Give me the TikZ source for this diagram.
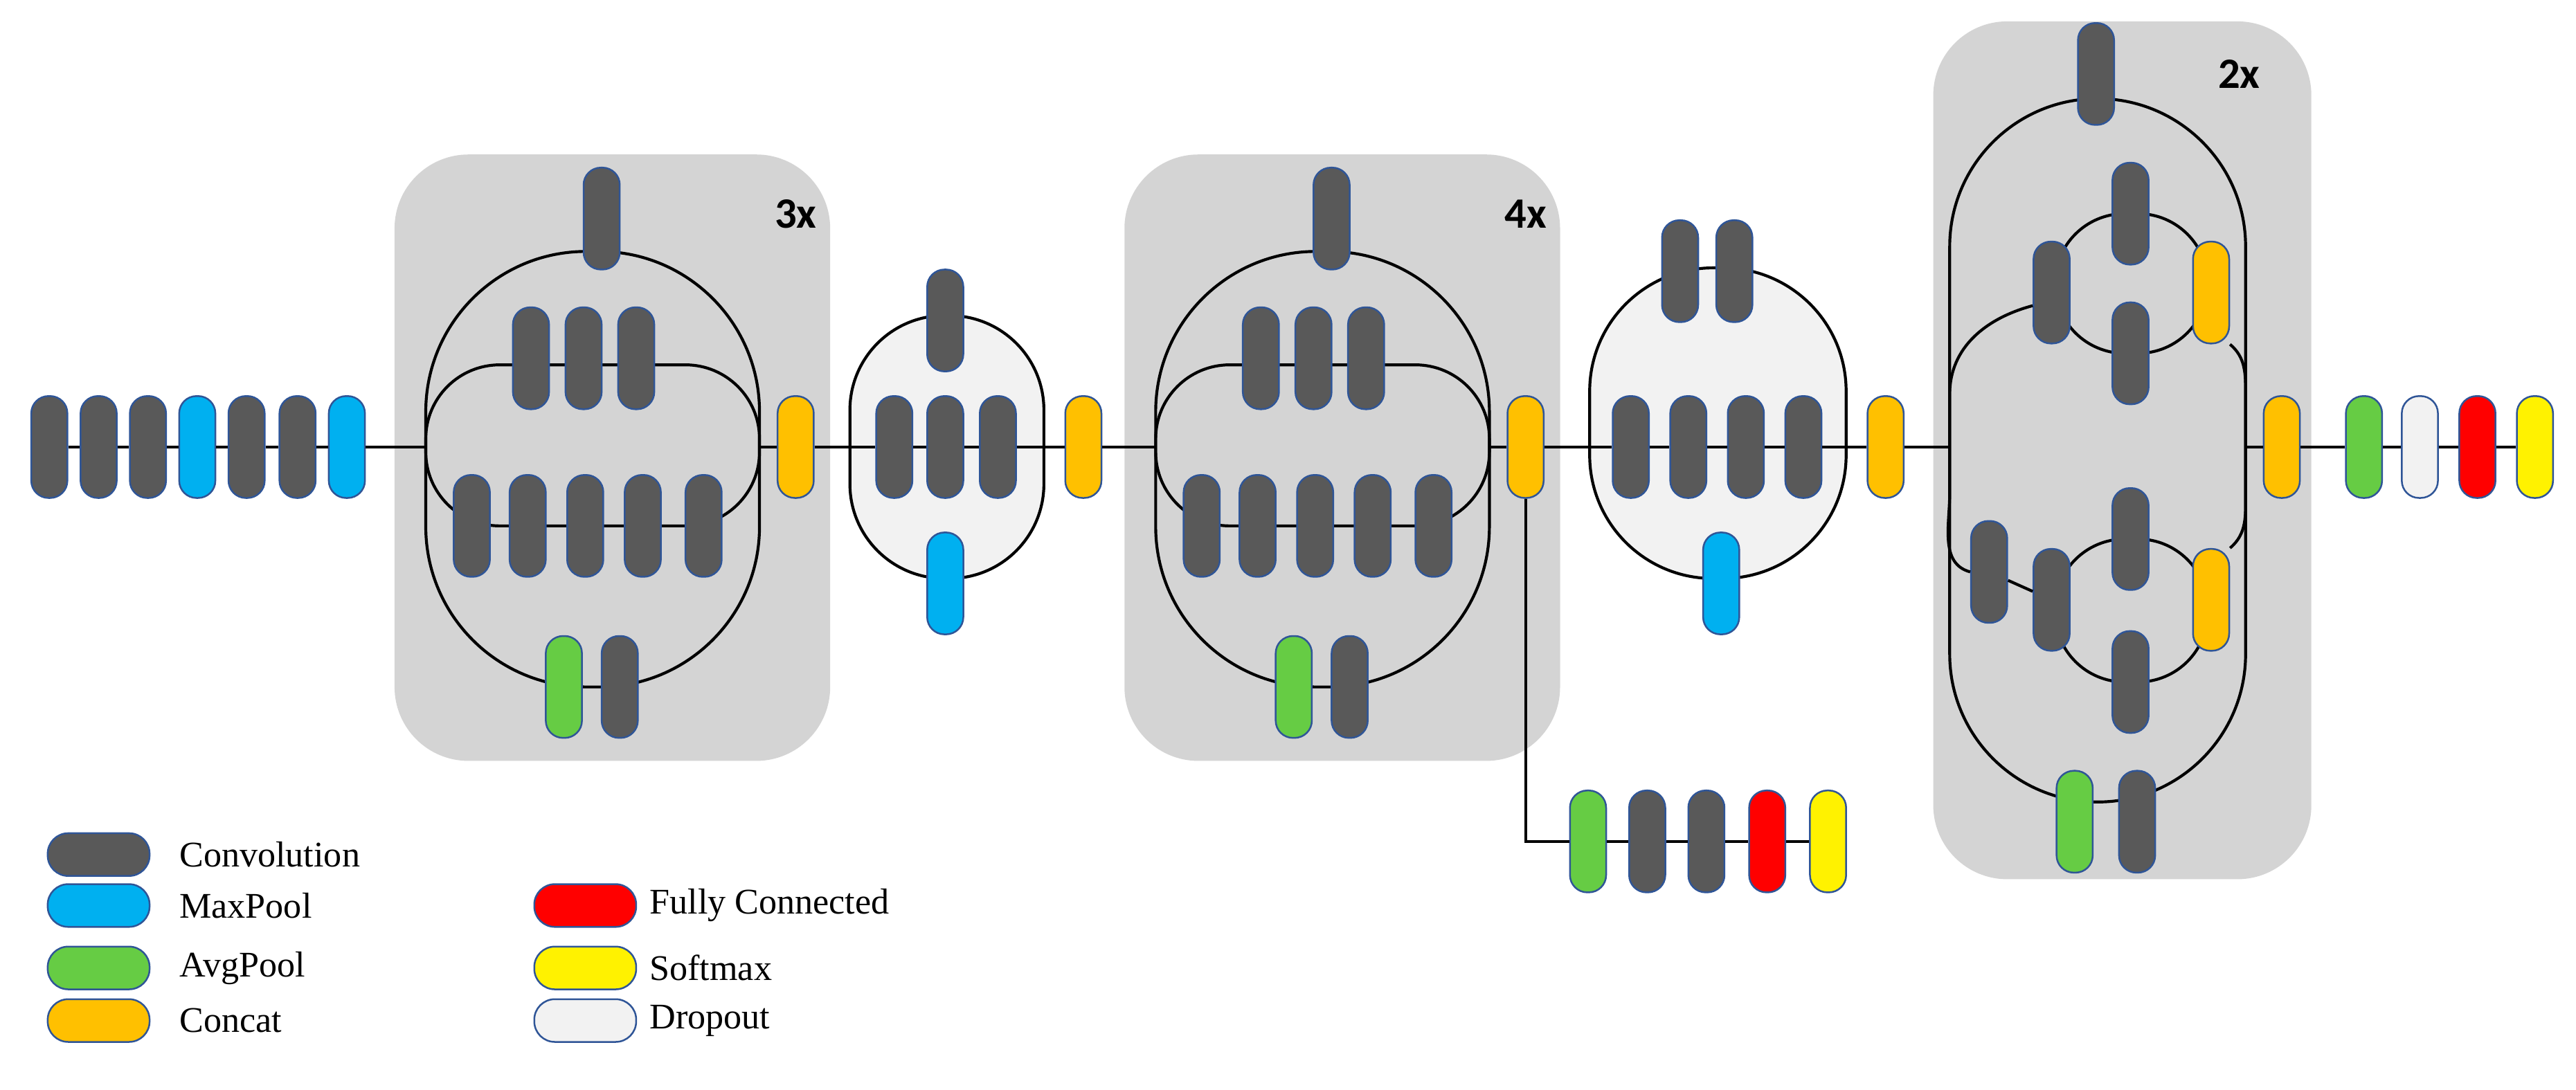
\documentclass[tikz,border=0pt]{standalone}
\usepackage{fontspec}
\setmainfont{Liberation Serif}
\newfontfamily\lblfont{Carlito}
\definecolor{conv}{HTML}{595959}
\definecolor{maxp}{HTML}{00B0F0}
\definecolor{avgp}{HTML}{66CC44}
\definecolor{cat}{HTML}{FFC000}
\definecolor{drop}{HTML}{F2F2F2}
\definecolor{rim}{HTML}{2F5597}
\definecolor{boxgray}{HTML}{D4D4D4}
\begin{document}
\begin{tikzpicture}
[x=0.02cm,y=-0.02cm,
pill/.style={rectangle,draw=rim,line width=0.6pt,minimum width=0.44cm,minimum height=1.24cm,rounded corners=0.21cm,inner sep=0pt},
cv/.style={pill,fill=conv},
mp/.style={pill,fill=maxp},
ap/.style={pill,fill=avgp},
ct/.style={pill,fill=cat},
fc/.style={pill,fill=red},
sm/.style={pill,fill=yellow},
dp/.style={pill,fill=drop},
key/.style={minimum width=1.24cm,minimum height=0.52cm,rounded corners=0.25cm},
loop/.style={draw=black,line width=1pt},
rep/.style={fill=boxgray,rounded corners=0.9cm},
note/.style={font=\fontsize{12.5}{14}\selectfont,anchor=west}]
\useasboundingbox (0,0) rectangle (1567,663);
% repeated blocks
\fill[rep] (240,94) rectangle (505,463);
\fill[rep] (684,94) rectangle (949,463);
\fill[rep] (1176,13) rectangle (1406,535);
\node[font=\lblfont\bfseries\fontsize{15}{17}\selectfont] (n3) at (484,130) {3x};
\node[font=\lblfont\bfseries\fontsize{15}{17}\selectfont] (n4) at (928,130) {4x};
\node[font=\lblfont\bfseries\fontsize{15}{17}\selectfont] (n2) at (1362,45) {2x};
% reduction blocks
\draw[loop,fill=drop,rounded corners=1.15cm] (517,192) rectangle (635,352);
\draw[loop,fill=drop,rounded corners=1.5cm] (967,163) rectangle (1123,352);
% stem
\foreach \x/\t [count=\i] in {30/cv,60/cv,90/cv,120/mp,150/cv,181/cv,211/mp}
	\node[\t] (s\i) at (\x,272) {};
\foreach \i [evaluate=\i as \j using int(\i+1)] in {1,...,6}
	\draw[line width=1pt] (s\i) -- (s\j);
% inception A and B
\foreach \s/\n in {0/1,444/2}
{
	\draw[loop,shift={(\s,0)},rounded corners=1.95cm] (259,153) rectangle (462,418);
	\draw[loop,shift={(\s,0)},rounded corners=0.9cm] (259,222) rectangle (462,320);
	\coordinate[shift={(\s,0)}] (in\n) at (259,272);
	\coordinate[shift={(\s,0)}] (out\n) at (462,272);
	\node[cv,shift={(\s,0)}] (t\n) at (366,133) {};
	\foreach \x [count=\i] in {323,355,387}
		\node[cv,shift={(\s,0)}] (u\n\i) at (\x,218) {};
	\foreach \x [count=\i] in {287,321,356,391,428}
		\node[cv,shift={(\s,0)}] (l\n\i) at (\x,320) {};
	\node[ap,shift={(\s,0)}] (p\n) at (343,418) {};
	\node[cv,shift={(\s,0)}] (q\n) at (377,418) {};
	\node[ct,shift={(\s,0)}] (c\n) at (484,272) {};
}
\draw[line width=1pt] (s7) -- (in1);
\draw[line width=1pt] (out1) -- (c1);
% reduction A
\coordinate (ra) at (517,272);
\coordinate (rb) at (635,272);
\node[cv] (rt) at (575,195) {};
\foreach \x [count=\i] in {544,575,607}
	\node[cv] (rm\i) at (\x,272) {};
\node[mp] (rp) at (575,355) {};
\node[ct] (rc) at (659,272) {};
\draw[line width=1pt] (c1) -- (ra) -- (rm1) -- (rm2) -- (rm3) -- (rb) -- (rc) -- (in2);
\draw[line width=1pt] (out2) -- (c2);
% auxiliary head
\coordinate (ax) at (928,512);
\foreach \x/\t [count=\i] in {966/ap,1002/cv,1038/cv,1075/fc,1112/sm}
	\node[\t] (a\i) at (\x,512) {};
\draw[line width=1pt] (c2) -- (ax) -- (a1);
\foreach \i [evaluate=\i as \j using int(\i+1)] in {1,...,4}
	\draw[line width=1pt] (a\i) -- (a\j);
% reduction B
\coordinate (rd) at (967,272);
\coordinate (re) at (1123,272);
\node[cv] (rdt1) at (1022,165) {};
\node[cv] (rdt2) at (1055,165) {};
\foreach \x [count=\i] in {992,1027,1062,1097}
	\node[cv] (rdm\i) at (\x,272) {};
\node[mp] (rdp) at (1047,355) {};
\node[ct] (rdc) at (1147,272) {};
\draw[line width=1pt] (c2) -- (rd) -- (rdm1) -- (rdm2) -- (rdm3) -- (rdm4) -- (re) -- (rdc);
% inception C
\draw[loop,rounded corners=1.8cm] (1186,60) rectangle (1366,488);
\draw[loop,rounded corners=0.85cm] (1250,130) rectangle (1343,215);
\draw[loop,rounded corners=0.85cm] (1250,328) rectangle (1343,415);
\coordinate (cw) at (1186,272);
\coordinate (ce) at (1366,272);
\node[cv] (ct) at (1275,45) {};
\node[cv] (cu1) at (1296,130) {};
\node[cv] (cu2) at (1296,215) {};
\node[cv] (cul) at (1248,178) {};
\node[ct] (cur) at (1345,178) {};
\node[cv] (cx) at (1210,348) {};
\node[cv] (cl1) at (1296,328) {};
\node[cv] (cl2) at (1296,415) {};
\node[cv] (cll) at (1248,365) {};
\node[ct] (clr) at (1345,365) {};
\node[ap] (cp) at (1262,500) {};
\node[cv] (cq) at (1300,500) {};
\draw[loop] (cul.west) ++(0,8) to[out=195,in=90] (1186,240) -- (1186,300) to[out=-90,in=165] (cx.west);
\draw[loop] (cur.south east) to[out=-40,in=90] (1366,240) -- (1366,300) to[out=-90,in=40] (clr.north east);
\draw[line width=1pt] (cx) -- (cll);
\node[ct] (cc) at (1388,272) {};
\draw[line width=1pt] (rdc) -- (cw);
\draw[line width=1pt] (ce) -- (cc);
% classifier
\foreach \x/\t [count=\i] in {1438/ap,1472/dp,1507/fc,1542/sm}
	\node[\t] (h\i) at (\x,272) {};
\draw[line width=1pt] (cc) -- (h1) -- (h2) -- (h3) -- (h4);
% legend
\foreach \y/\t/\l [count=\i] in {520/cv/Convolution,551/mp/MaxPool,589/ap/AvgPool,621/ct/Concat}
	\node[\t,key] (k\i) at (60,\y) {} node[note] (kt\i) at (103,\y) {\l};
\foreach \y/\t/\l [count=\i] in {551/fc/Fully Connected,589/sm/Softmax,621/dp/Dropout}
	\node[\t,key] (kk\i) at (356,\y) {} node[note] (kkt\i) at (389,\y) {\l};
\end{tikzpicture}
\end{document}
